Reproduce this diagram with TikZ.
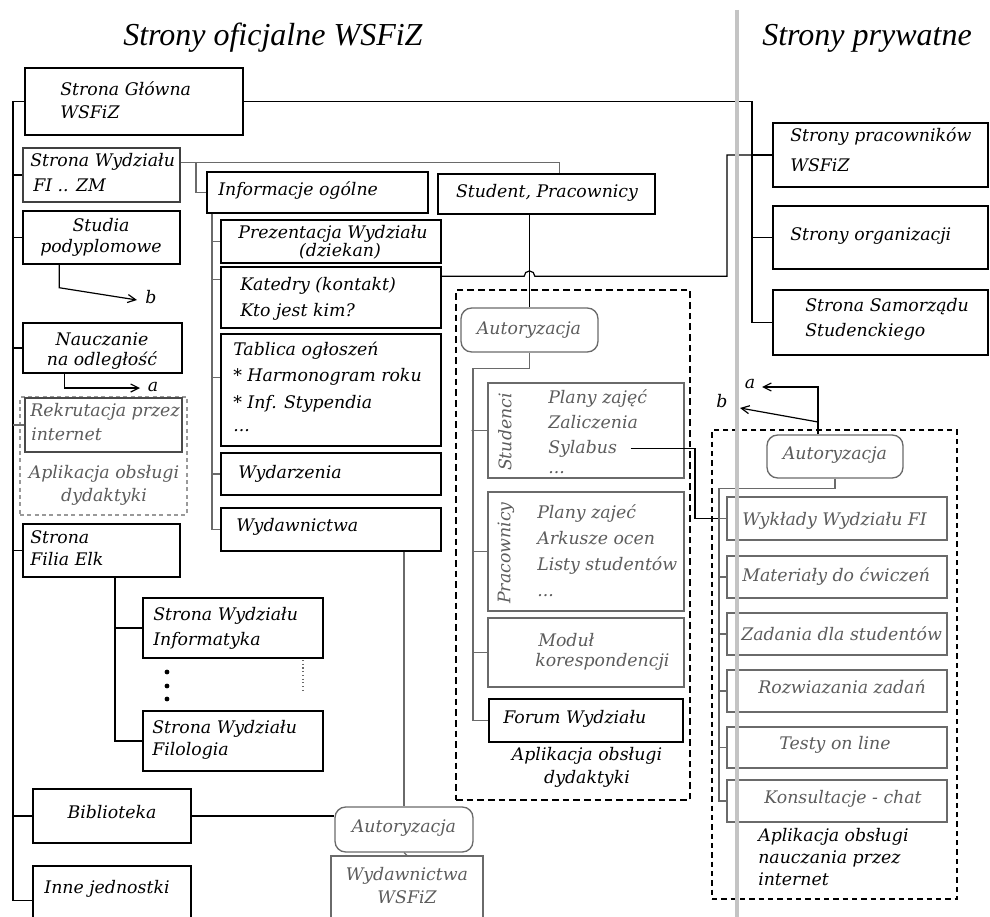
\documentclass[tikz,border=0pt]{standalone}
\usepackage{fontspec}
\setmainfont{DejaVu Serif}
\newfontfamily\ttlfont{Liberation Serif}
\usetikzlibrary{arrows.meta,fit,calc}
\definecolor{gbd}{HTML}{6A6A6A}
\definecolor{gtx}{HTML}{5C5C5C}
\definecolor{vln}{HTML}{C4C4C4}
\newcommand\bx[4]{\node[#4,fit={(#2)(#3)}] (#1) {};}
\newcommand\tx[4][]{\node[tl,#1] (#2) at (#3) {#4};}
\begin{document}
\begin{tikzpicture}[x=0.75pt,y=-0.75pt,
  box/.style={draw=black,line width=1.1pt,inner sep=0pt},
  gbox/.style={draw=gbd,line width=1pt,inner sep=0pt},
  abox/.style={gbox,rounded corners=8pt},
  dbox/.style={draw=black,line width=1pt,dashed,dash pattern=on 5pt off 3pt,inner sep=0pt},
  conn/.style={draw=black,line width=0.9pt},
  gconn/.style={draw=gbd,line width=0.9pt},
  arr/.style={-{Straight Barb[length=6pt,width=6pt]}},
  tl/.style={inner sep=0pt,anchor=mid west,font=\fontsize{13}{15}\selectfont\itshape},
  tc/.style={anchor=mid},
  gt/.style={text=gtx},
  ttl/.style={inner sep=0pt,anchor=base west,font=\ttlfont\itshape\fontsize{24}{28}\selectfont}]
\useasboundingbox (0,0) rectangle (990,917);
\clip (0,0) rectangle (990,917);

% titles
\node[ttl] (t1) at (123,46) {Strony oficjalne WSFiZ};
\node[ttl] (t2) at (762,46) {Strony prywatne};

% left column boxes
\bx{sg}{25,68}{243,135}{box}
\bx{sw}{23,148}{180,202}{box,draw=gbd!60!black}
\bx{sp}{23,211}{180,264}{box}
\bx{nl}{23,323}{182,373}{box}
\bx{ldash}{20,397}{187,515}{dbox,draw=gray!80,dash pattern=on 3pt off 2.5pt}
\bx{rk}{25,398}{182,452}{gbox,draw=gbd!70!black}
\bx{fe}{23,524}{180,577}{box}
\bx{inf}{143,598}{323,658}{box}
\bx{fil}{143,711}{323,771}{box}
\bx{bib}{33,789}{191,843}{box}
\bx{inn}{33,866}{191,935}{box}

% middle column boxes
\bx{info}{207,172}{428,213}{box}
\bx{stud}{438,174}{655,214}{box}
\bx{prez}{221,220}{441,263}{box}
\bx{kat}{221,267}{441,328}{box}
\bx{tab}{221,334}{441,446}{box}
\bx{wyd}{221,453}{441,495}{box}
\bx{wyw}{221,508}{441,551}{box}
\bx{aut2}{335,807}{473,852}{abox}
\bx{wws}{331,856}{483,945}{gbox}

% application box
\bx{mdash}{456,290}{690,800}{dbox}
\bx{aut1}{461,308}{598,352}{abox}
\bx{stb}{488,383}{684,478}{gbox}
\bx{prb}{488,492}{684,611}{gbox}
\bx{mod}{488,618}{684,687}{gbox}
\bx{for}{489,699}{683,742}{box}

% right side
\bx{prac}{773,123}{988,187}{box}
\bx{org}{773,206}{988,269}{box}
\bx{sam}{773,290}{988,355}{box}
\bx{rdash}{712,430}{957,899}{dbox,dash pattern=on 4pt off 3pt}
\bx{aut3}{767,435}{903,478}{abox}
\bx{wyk}{727,497}{947,540}{gbox}
\bx{mat}{727,556}{947,598}{gbox}
\bx{zad}{727,613}{947,655}{gbox}
\bx{roz}{727,670}{947,712}{gbox}
\bx{tes}{727,727}{947,768}{gbox}
\bx{kon}{727,780}{947,822}{gbox}

% texts left
\tx{sg1}{60,92}{Strona Główna}
\tx{sg2}{60,115}{WSFiZ}
\tx{sw1}{30,163}{Strona Wydziału}
\tx{sw2}{33,188}{FI .. ZM}
\tx[tc]{sp1}{101,228}{Studia}
\tx[tc]{sp2}{101,249}{podyplomowe}
\tx[tc]{nl1}{102,342}{Nauczanie}
\tx[tc]{nl2}{102,362}{na odległość}
\tx[gt]{rk1}{30,413}{Rekrutacja przez}
\tx[gt]{rk2}{31,437}{internet}
\tx[tc,gt]{la1}{104,475}{Aplikacja obsługi}
\tx[tc,gt]{la2}{104,498}{dydaktyki}
\tx{fe1}{30,540}{Strona}
\tx{fe2}{30,562}{Filia Elk}
\tx{inf1}{153,617}{Strona Wydziału}
\tx{inf2}{153,642}{Informatyka}
\tx{fil1}{152,730}{Strona Wydziału}
\tx{fil2}{152,752}{Filologia}
\tx[tc]{bib1}{112,815}{Biblioteka}
\tx[tc]{inn1}{107,890}{Inne jednostki}

% texts middle
\tx{info1}{218,192}{Informacje ogólne}
\tx[tc]{stud1}{547,194}{Student, Pracownicy}
\tx[tc]{prez1}{333,235}{Prezentacja Wydziału}
\tx[tc]{prez2}{340,253}{(dziekan)}
\tx{kat1}{240,287}{Katedry (kontakt)}
\tx{kat2}{240,313}{Kto jest kim?}
\tx{tab1}{233,352}{Tablica ogłoszeń}
\tx{tab2}{233,378}{* Harmonogram roku}
\tx{tab3}{233,405}{* Inf. Stypendia}
\tx{tab4}{233,428}{...}
\tx{wyd1}{238,475}{Wydarzenia}
\tx{wyw1}{236,528}{Wydawnictwa}
\tx[tc,gt]{aut2t}{404,829}{Autoryzacja}
\tx[tc,gt]{wws1}{407,877}{Wydawnictwa}
\tx[tc,gt]{wws2}{407,900}{WSFiZ}

\tx[tc,gt]{aut1t}{529,331}{Autoryzacja}
\tx[tc,gt,rotate=90]{stR}{508,432}{Studenci}
\tx[gt]{st1}{548,400}{Plany zajęć}
\tx[gt]{st2}{548,425}{Zaliczenia}
\tx[gt]{st3}{548,450}{Sylabus}
\tx[gt]{st4}{548,470}{...}
\tx[tc,gt,rotate=90]{prR}{507,553}{Pracownicy}
\tx[gt]{pr1}{537,515}{Plany zajeć}
\tx[gt]{pr2}{537,541}{Arkusze ocen}
\tx[gt]{pr3}{537,567}{Listy studentów}
\tx[gt]{pr4}{537,593}{...}
\tx[gt]{mod1}{538,643}{Moduł}
\tx[gt]{mod2}{535,663}{korespondencji}
\tx{for1}{503,720}{Forum Wydziału}
\tx[tc]{ap1}{587,757}{Aplikacja obsługi}
\tx[tc]{ap2}{587,780}{dydaktyki}

% texts right
\tx{prac1}{790,138}{Strony pracowników}
\tx{prac2}{790,168}{WSFiZ}
\tx{org1}{790,237}{Strony organizacji}
\tx{sam1}{805,308}{Strona Samorządu}
\tx{sam2}{805,333}{Studenckiego}
\tx[tc,gt]{aut3t}{835,456}{Autoryzacja}
\tx[gt]{wyk1}{742,522}{Wykłady Wydziału FI}
\tx[gt]{mat1}{742,578}{Materiały do ćwiczeń}
\tx[gt]{zad1}{741,637}{Zadania dla studentów}
\tx[tc,gt]{roz1}{842,690}{Rozwiazania zadań}
\tx[tc,gt]{tes1}{835,746}{Testy on line}
\tx[tc,gt]{kon1}{843,800}{Konsultacje - chat}
\tx{ri1}{758,838}{Aplikacja obsługi}
\tx{ri2}{758,860}{nauczania przez}
\tx{ri3}{758,882}{internet}

% labels a, b
\tx[tc]{la}{153,388}{a}
\tx[tc]{lb}{151,300}{b}
\tx[tc]{ra}{750,385}{a}
\tx[tc]{rb}{722,404}{b}

% dots and dotted line
\fill (167,672) circle[radius=1.8pt] (167,686) circle[radius=1.8pt] (167,699) circle[radius=1.8pt];
\draw[gbd,line width=0.8pt,dotted] (303,660) -- (303,693);

% ---------- connectors ----------
% trunk
\coordinate (tx) at (13,0);
\draw[conn] (sg.west) -- (sg.west -| tx) -- (inn.west -| tx) -- (inn.west);
\foreach \n in {sw,sp,nl,fe,bib} {\draw[conn] (\n.west -| tx) -- (\n.west);}
\draw[gconn] (rk.west -| tx) -- (rk.west);

% Strona Glowna to private pages
\coordinate (rx) at (752,0);
\draw[conn] (sg.east) -| (rx |- sam.west) -- (sam.west);
\draw[conn] (rx |- prac.west) -- (prac.west);
\draw[conn] (rx |- org.west) -- (org.west);

% Strona Wydzialu
\coordinate (s0) at ($(sw.north east)+(0,15)$);
\coordinate (sx) at (196,0);
\draw[gconn] (s0) -| ($(stud.north west)+(122,0)$);
\draw[gconn] (s0 -| sx) |- (info.west);

% Informacje children
\coordinate (ix) at (212,0);
\draw[gconn] (info.south -| ix) -- (wyw.west -| ix) -- (wyw.west);
\draw[gconn] (prez.west -| ix) -- (prez.west);
\coordinate (k1) at ($(kat.north west)+(0,13)$);
\draw[gconn] (k1 -| ix) -- (k1);
\coordinate (t1b) at ($(tab.north west)+(0,44)$);
\draw[gconn] (t1b -| ix) -- (t1b);
\draw[gconn] (wyd.west -| ix) -- (wyd.west);

% Katedry to Strony pracownikow (with hop)
\coordinate (k0) at ($(kat.north east)+(0,10)$);
\coordinate (hc) at (aut1.north |- k0);
\coordinate (kx) at (727,0);
\draw[conn] (k0) -- ([xshift=-4pt]hc) arc[start angle=180,end angle=0,radius=4pt] -- (k0 -| kx) |- (prac.west);

% Student -> Autoryzacja
\draw[conn] (aut1.north |- stud.south) -- (aut1.north);

% Autoryzacja (app) children
\coordinate (ax) at (473,0);
\draw[gconn] (aut1.south) -- ++(0,16) -| (for.west -| ax) -- (for.west);
\foreach \n in {stb,prb,mod} {\draw[gconn] (\n.west -| ax) -- (\n.west);}
\fill[gbd] (stb.west -| ax) circle[radius=1.2pt];

% Sylabus -> Wyklady
\coordinate (syx) at (695,0);
\draw[conn] ([xshift=10pt]st3.east) -| (syx |- wyk.west) -- (wyk.west);

% Autoryzacja (right) children
\coordinate (cx) at (719,0);
\draw[gconn] (aut3.south) -- ++(0,10) -| (kon.west -| cx) -- (kon.west);
\foreach \n in {wyk,mat,zad,roz,tes} {\draw[gconn] (\n.west -| cx) -- (\n.west);}

% arrows a, b (right)
\coordinate (a3) at ($(aut3.north)+(-17,0)$);
\coordinate (ea) at (762,387);
\coordinate (sb) at (818,422);
\coordinate (eb) at (740,408);
\draw[conn,arr] (a3) -- (a3 |- ea) -- (ea);
\draw[conn,arr] (a3 |- sb) -- (eb);

% arrows a, b (left)
\coordinate (eb2) at (137,300);
\coordinate (ea2) at (140,388);
\draw[conn,arr] ($(sp.south west)+(37,0)$) -- ++(0,23) -- (eb2);
\draw[conn,arr] ($(nl.south west)+(42,0)$) |- (ea2);

% Filia
\coordinate (fx) at (115,0);
\draw[conn] (fe.south -| fx) |- (fil.west);
\draw[conn] (inf.west -| fx) -- (inf.west);

% Wydawnictwa / Biblioteka -> Autoryzacja -> Wydawnictwa WSFiZ
\draw[gconn] (aut2.north |- wyw.south) -- (aut2.north);
\draw[conn] (bib.east) -- (bib.east -| aut2.west);
\draw[gconn] (aut2.south) -- (wws.north);

% divider
\draw[vln,line width=3pt] (737,10) -- (737,917);
\end{tikzpicture}
\end{document}
